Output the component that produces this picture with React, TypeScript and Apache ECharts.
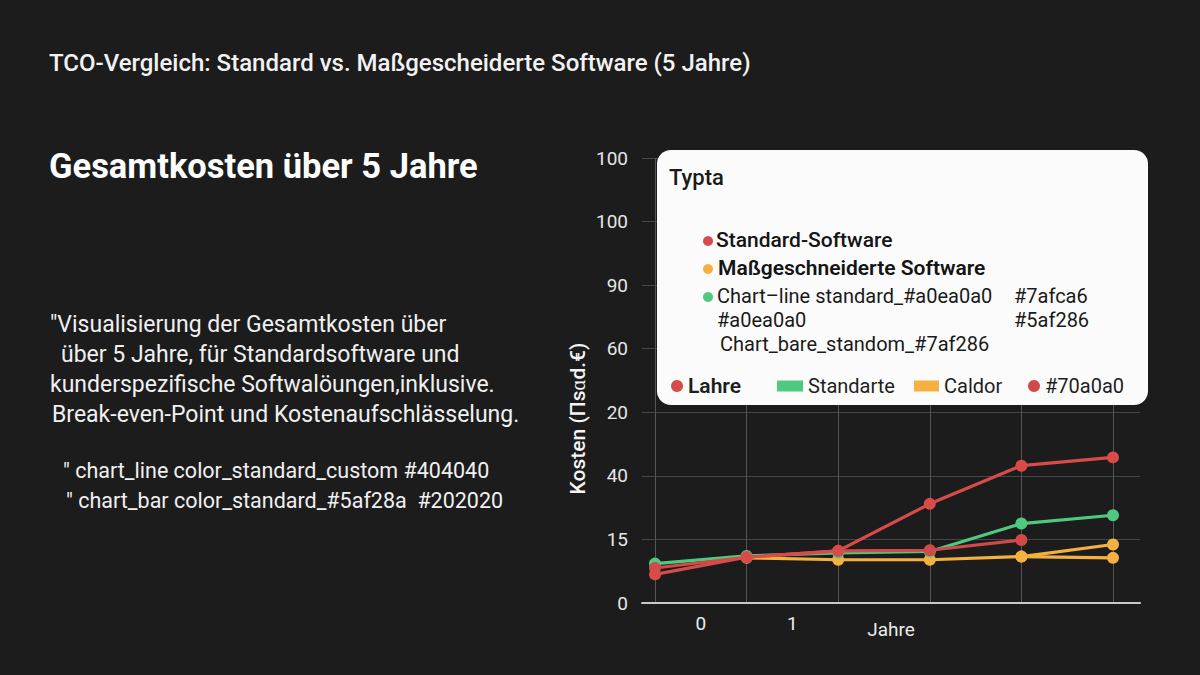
import React, { useEffect, useRef } from "react";
import * as echarts from "echarts";

const titleText = "TCO-Vergleich: Standard vs. Maßgescheiderte Software (5 Jahre)";
const subTitleText = "Gesamtkosten über 5 Jahre";
const descLines = [
  "″Visualisierung der Gesamtkosten über",
  "über 5 Jahre, für Standardsoftware und",
  "kunderspezifische Softwalöungen,inklusive.",
  "Break-even-Point und Kostenaufschlässelung.",
  "″ chart_line color_standard_custom #404040",
  "″ chart_bar color_standard_#5af28a  #202020",
];
const descX = [50, 61, 50, 52, 63, 66];
const descY = [324, 354, 384, 414, 470, 500];
const descSize = [23, 23, 23, 23, 21.5, 21.5];

const years = [0, 1, 2, 3, 4, 5];
const xLabels = ["0", "1", "", "", ""];
const yTickLabels = ["0", "15", "40", "20", "60", "90", "100", "100"];

// values expressed in tick-step units of the drawn y axis
const lahre = [0.45, 0.72, 0.82, 1.56, 2.16, 2.29];
const rotB = [0.55, 0.72, 0.82, 0.83, 0.99, null];
const standarte = [0.62, 0.74, 0.79, 0.81, 1.25, 1.38];
const caldor = [null, 0.71, 0.68, 0.68, 0.73, 0.92];
const massB = [null, null, null, null, 0.73, 0.71];

const boxTitle = "Typta";
const boxItems = ["Standard-Software", "Maßgeschneiderte Software", "Chart–line standard_#a0ea0a0"];
const boxExtra = ["#7afca6", "#a0ea0a0", "#5af286", "Chart_bare_standom_#7af286"];
const legendNames = ["Lahre", "Standarte", "Caldor", "#70a0a0"];

const RED = "#d84b4b";
const RED2 = "#cf4a48";
const GREEN = "#4fc97f";
const ORANGE = "#f4b142";
const FONT = "Roboto";

function pairs(vals: (number | null)[]) {
  const out: number[][] = [];
  vals.forEach((v, i) => {
    if (v !== null) out.push([years[i], v]);
  });
  return out;
}

export default function App() {
  const ref = useRef<HTMLDivElement>(null);
  useEffect(() => {
    if (!ref.current) return;
    const chart = echarts.init(ref.current, undefined, { renderer: "svg" });
    const lineSeries = (name: string, vals: (number | null)[], color: string, z: number) => ({
      name,
      type: "line",
      xAxisIndex: 2,
      yAxisIndex: 1,
      data: pairs(vals),
      symbol: "circle",
      symbolSize: 12,
      z,
      lineStyle: { color, width: 3.2 },
      itemStyle: { color },
    });
    const txt = (text: string, x: number, y: number, size: number, weight: any, fill: string, z = 51) => ({
      type: "text",
      z,
      style: {
        text,
        x,
        y,
        fill,
        fontSize: size,
        fontWeight: weight,
        fontFamily: FONT,
        verticalAlign: "middle",
        align: "left",
      },
    });
    const legendOf = (name: string, left: number, icon: string, w: number, h: number, bold: boolean) => ({
      show: true,
      left,
      top: 375,
      z: 60,
      padding: 0,
      itemWidth: w,
      itemHeight: h,
      itemGap: 0,
      selectedMode: false,
      icon,
      data: [name],
      textStyle: {
        color: "#1e1e1e",
        fontSize: bold ? 21 : 20,
        fontWeight: bold ? 600 : 400,
        fontFamily: FONT,
        lineHeight: 22,
      },
    });
    const option: any = {
      animation: false,
      backgroundColor: "#1c1c1c",
      textStyle: { fontFamily: FONT },
      title: [
        {
          text: titleText,
          left: 44,
          top: 46,
          textStyle: { color: "#f2f2f2", fontSize: 24, fontWeight: 500, fontFamily: FONT },
        },
        {
          text: subTitleText,
          left: 44,
          top: 143,
          textStyle: { color: "#ffffff", fontSize: 34.5, fontWeight: "bold", fontFamily: FONT },
        },
      ],
      legend: [
        legendOf(legendNames[0], 671, "circle", 12, 12, true),
        legendOf(legendNames[1], 777, "rect", 26, 11, false),
        legendOf(legendNames[2], 914, "rect", 25, 11, false),
        legendOf(legendNames[3], 1028, "circle", 12, 12, false),
      ],
      grid: [
        { left: 642, right: 60, top: 158, bottom: 72 },
        { left: 655, right: 87, top: 158, bottom: 72 },
      ],
      xAxis: [
        {
          gridIndex: 0,
          type: "value",
          min: 0,
          max: 1,
          axisLine: { show: true, lineStyle: { color: "#c9c9c9", width: 2 } },
          axisTick: { show: false },
          axisLabel: { show: false },
          splitLine: { show: false },
        },
        {
          gridIndex: 1,
          type: "category",
          data: xLabels,
          boundaryGap: true,
          axisLine: { show: false },
          axisTick: { show: false },
          axisLabel: { color: "#ececec", fontSize: 19, margin: 11, interval: 0, fontFamily: FONT },
          splitLine: { show: true, interval: 0, lineStyle: { color: "#555555", width: 1 } },
          name: "Jahre",
          nameLocation: "middle",
          nameGap: 17,
          nameMoveOverlap: false,
          nameTextStyle: { color: "#ececec", fontSize: 19, fontFamily: FONT, padding: [0, 0, 0, 14] },
        },
        { gridIndex: 1, type: "value", min: 0, max: 5, show: false },
      ],
      yAxis: [
        {
          gridIndex: 0,
          type: "value",
          min: 0,
          max: 7,
          interval: 1,
          axisLine: { show: false },
          axisTick: { show: false },
          axisLabel: {
            color: "#e6e6e6",
            fontSize: 19,
            margin: 14,
            fontFamily: FONT,
            formatter: (v: number) => yTickLabels[Math.round(v)] ?? "",
          },
          splitLine: { show: true, lineStyle: { color: "#474747", width: 1 } },
          name: "Kosten (Πsɑd.€)",
          nameLocation: "middle",
          nameGap: 54,
          nameTextStyle: {
            color: "#f4f4f4",
            fontSize: 21,
            fontWeight: 500,
            fontFamily: FONT,
            padding: [0, 76, 0, 0],
          },
        },
        { gridIndex: 1, type: "value", min: 0, max: 7, show: false },
      ],
      series: [
        lineSeries("Maßgeschneiderte Software", massB, ORANGE, 2),
        lineSeries(legendNames[2], caldor, ORANGE, 3),
        lineSeries(legendNames[1], standarte, GREEN, 4),
        lineSeries(legendNames[3], rotB, RED2, 5),
        lineSeries(legendNames[0], lahre, RED, 6),
      ],
      graphic: [
        {
          type: "rect",
          z: 50,
          shape: { x: 657, y: 150, width: 491, height: 255, r: 14 },
          style: { fill: "#fbfbfb" },
        },
        txt(boxTitle, 669, 177, 22, 500, "#1a1a1a"),
        { type: "circle", z: 51, shape: { cx: 708, cy: 241, r: 5 }, style: { fill: RED } },
        txt(boxItems[0], 716, 240, 21, 500, "#141414"),
        { type: "circle", z: 51, shape: { cx: 708, cy: 269, r: 5 }, style: { fill: ORANGE } },
        txt(boxItems[1], 718, 268, 21, 600, "#141414"),
        { type: "circle", z: 51, shape: { cx: 708, cy: 297, r: 5 }, style: { fill: GREEN } },
        txt(boxItems[2], 717, 296, 20, 400, "#1a1a1a"),
        txt(boxExtra[0], 1014, 296, 20, 400, "#1a1a1a"),
        txt(boxExtra[1], 717, 320, 20, 400, "#1a1a1a"),
        txt(boxExtra[2], 1014, 320, 20, 400, "#1a1a1a"),
        txt(boxExtra[3], 720, 344, 20, 400, "#1a1a1a"),
        ...descLines.map((l, i) => txt(l, descX[i], descY[i], descSize[i], 400, "#f0f0f0", 10)),
      ],
    };
    chart.setOption(option);
    return () => chart.dispose();
  }, []);
  return (
    <div
      ref={ref}
      style={{ position: "fixed", left: 0, top: 0, width: 1200, height: 675, background: "#1c1c1c" }}
    />
  );
}
